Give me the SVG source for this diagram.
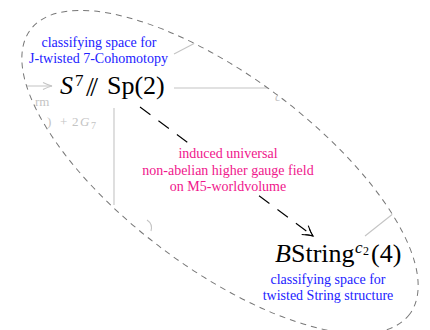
<svg xmlns="http://www.w3.org/2000/svg" width="430" height="330" viewBox="0 0 430 330">
<style>
  text { font-family: 'Liberation Serif', 'Times New Roman', serif; }
  .blue { fill: #2222ff; font-size: 14px; text-anchor: middle; }
  .pink { fill: #f0168c; font-size: 14px; text-anchor: middle; }
  .big { fill: #000; font-size: 26px; }
  .faint { stroke: #c4c4c4; stroke-width: 1.1; fill: none; }
  .faintText { fill: #c4c4c4; font-size: 13px; }
</style>
<defs>
  <clipPath id="inside">
    <ellipse cx="220" cy="172" rx="237" ry="96" transform="rotate(36.87 220 172)"/>
  </clipPath>
  <marker id="to" markerUnits="userSpaceOnUse" markerWidth="16" markerHeight="14" refX="12" refY="7" orient="auto" viewBox="0 0 16 14">
    <path d="M2,1.5 Q7,5 12,7 Q7,9 2,12.5" fill="none" stroke="#000" stroke-width="1.1"/>
    <path d="M5,3.5 Q8.5,6 12,7 Q8.5,8 5,10.5" fill="none" stroke="#000" stroke-width="0.9"/>
  </marker>
</defs>
<rect width="430" height="330" fill="#fff"/>

<g font-family="Liberation Serif, serif">
<!-- faded background diagram, clipped to the dashed region -->
<g id="background" clip-path="url(#inside)">
  <line class="faint" x1="20" y1="86" x2="52" y2="86"/>
  <path class="faint" d="M43,82.5 Q48,85 52,86 Q48,87 43,89.5"/>
  <line class="faint" x1="174" y1="54" x2="197" y2="42"/>
  <line class="faint" x1="174" y1="88" x2="269" y2="88"/>
  <line class="faint" x1="114" y1="108" x2="114" y2="205"/>
  <path class="faint" d="M147,220 Q153,224 151,231"/>
  <line class="faint" x1="365" y1="236" x2="394" y2="213"/>
  <text class="faintText" font-family="Liberation Serif, serif" x="35" y="106">rm</text>
  <text class="faintText" font-family="Liberation Serif, serif" y="126" font-size="14"><tspan x="47">)</tspan><tspan x="60">+</tspan><tspan x="72">2</tspan><tspan x="80" font-style="italic">G</tspan><tspan x="91" y="129" font-size="10">7</tspan></text>
  <text class="faintText" font-family="Liberation Serif, serif" x="275" y="101" font-style="italic">c</text>
</g>

<!-- dashed region outline -->
<ellipse cx="220" cy="172" rx="237" ry="96" transform="rotate(36.87 220 172)" fill="none" stroke="#777" stroke-width="1" stroke-dasharray="6 5"/>

<g id="node-s7">
  <text class="blue" font-family="Liberation Serif, serif" x="99" y="47">classifying space for</text>
  <text class="blue" font-family="Liberation Serif, serif" x="98.5" y="63">J-twisted 7-Cohomotopy</text>
  <text class="big" font-family="Liberation Serif, serif" y="94"><tspan x="60" font-style="italic">S</tspan><tspan x="75" y="86" font-size="17">7</tspan><tspan x="86" y="96" letter-spacing="-3.5" font-size="28">//</tspan><tspan x="107" y="94">Sp(2)</tspan></text>
</g>

<g id="node-bstring">
  <text class="big" font-family="Liberation Serif, serif" y="262"><tspan x="275" font-style="italic">B</tspan><tspan x="291">String</tspan><tspan x="355" y="253" font-size="17" font-style="italic">c</tspan><tspan x="363" y="255" font-size="12">2</tspan><tspan x="371" y="262">(4)</tspan></text>
  <text class="blue" font-family="Liberation Serif, serif" x="328" y="284">classifying space for</text>
  <text class="blue" font-family="Liberation Serif, serif" x="328" y="300">twisted String structure</text>
</g>

<g id="connectors">
  <path d="M140,107 L194,147.3" fill="none" stroke="#000" stroke-width="1.1" stroke-dasharray="13 10"/>
  <path d="M259,195.8 L313,236" fill="none" stroke="#000" stroke-width="1.1" stroke-dasharray="13 10" marker-end="url(#to)"/>
  <g id="label-induced">
    <text class="pink" font-family="Liberation Serif, serif" x="228" y="158">induced universal</text>
    <text class="pink" font-family="Liberation Serif, serif" x="228" y="174.5">non-abelian higher gauge field</text>
    <text class="pink" font-family="Liberation Serif, serif" x="228" y="191">on M5-worldvolume</text>
  </g>
</g>
</g>
</svg>
